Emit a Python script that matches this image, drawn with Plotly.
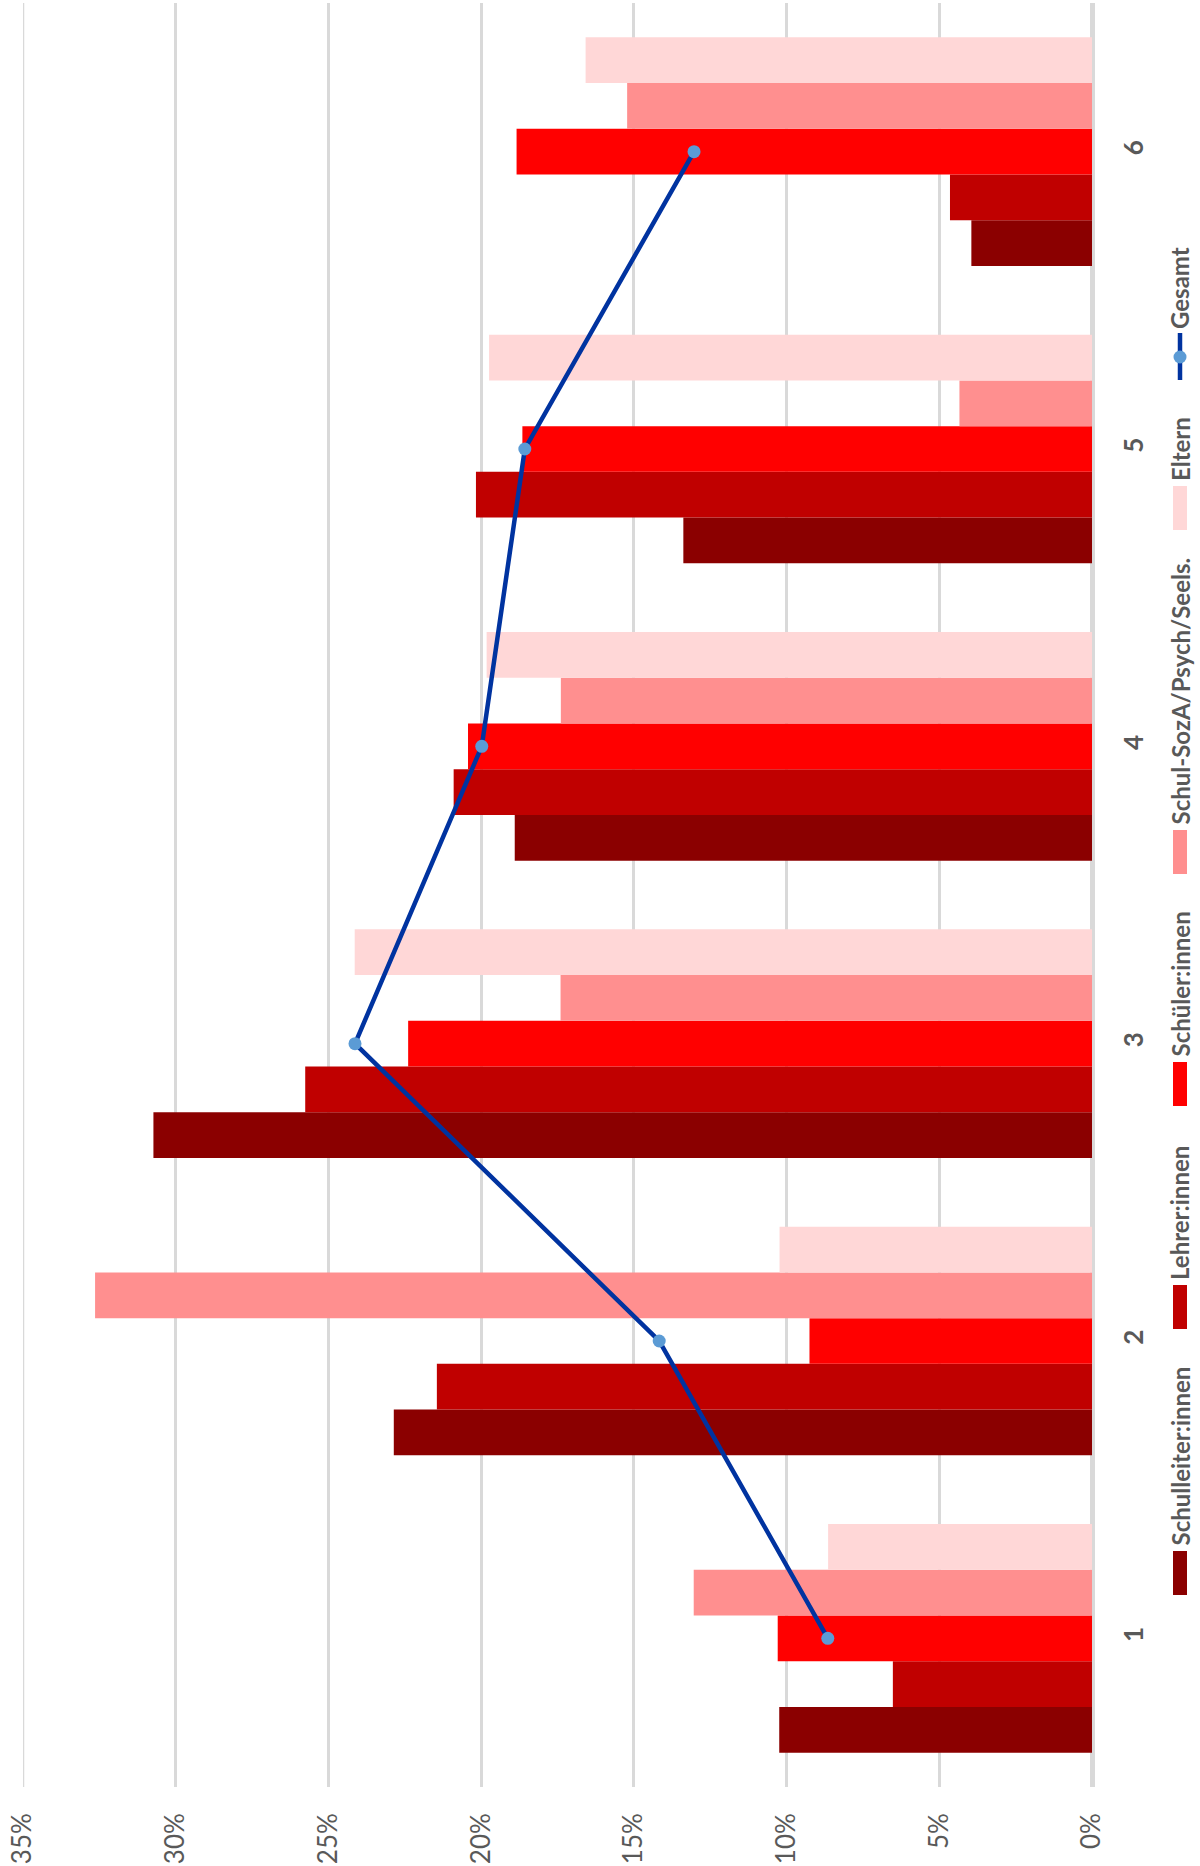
import plotly.graph_objects as go

# Categories (1..6) and shares per respondent group, in percent
categories = [1, 2, 3, 4, 5, 6]
category_labels = ["1", "2", "3", "4", "5", "6"]

schulleiter = [10.24, 22.86, 30.73, 18.90, 13.38, 3.95]
lehrer = [6.52, 21.45, 25.76, 20.90, 20.17, 4.65]
schueler = [10.29, 9.25, 22.39, 20.43, 18.65, 18.84]
sozA = [13.04, 32.64, 17.40, 17.39, 4.34, 15.22]
eltern = [8.64, 10.23, 24.14, 19.82, 19.74, 16.58]
gesamt = [8.65, 14.17, 24.13, 19.98, 18.57, 13.03]

series_names = ["Schulleiter:innen", "Lehrer:innen", "Schüler:innen",
                "Schul-SozA/Psych/Seels.", "Eltern"]
line_name = "Gesamt"

x_ticks = [0, 5, 10, 15, 20, 25, 30, 35]
x_tick_labels = ["0%", "5%", "10%", "15%", "20%", "25%", "30%", "35%"]

bar_colors = ["#8B0000", "#C00000", "#FF0000", "#FF8F8F", "#FFD7D7"]
line_color = "#0033A0"
marker_color = "#5B9BD5"
text_color = "#595959"
grid_color = "#D9D9D9"
FONT = "Lato"

W, H = 1200, 1866
ML, MR, MT, MB = 23, 108, 3, 79
PW, PH = W - ML - MR, H - MT - MB


def px_x(px):
    return (px - ML) / PW


def px_y(py):
    return (H - MB - py) / PH


fig = go.Figure()

for name, vals, col in zip(series_names,
                           [schulleiter, lehrer, schueler, sozA, eltern],
                           bar_colors):
    fig.add_trace(go.Bar(
        y=categories, x=vals, name=name, orientation="h",
        marker=dict(color=col, line=dict(width=0)),
        showlegend=False,
    ))

fig.add_trace(go.Scatter(
    y=categories, x=gesamt, name=line_name, mode="lines+markers",
    line=dict(color=line_color, width=4.5),
    marker=dict(color=marker_color, size=13, line=dict(width=0)),
    showlegend=False,
))

shapes = []
annotations = []

# Gridline at the far (35 %) edge of the value axis
shapes.append(dict(type="line", xref="x", yref="paper",
                   x0=max(x_ticks), x1=max(x_ticks), y0=0, y1=1,
                   line=dict(color=grid_color, width=2.5), layer="below"))

# Legend drawn along the right edge, rotated to read bottom-to-top
legend_x0, legend_x1 = 1173, 1187
legend_cx = (legend_x0 + legend_x1) / 2
swatch_spans = [(1551, 1595), (1285, 1329), (1062, 1106), (830, 874), (486, 530)]
for (top, bot), col, name in zip(swatch_spans, bar_colors, series_names):
    shapes.append(dict(type="rect", xref="paper", yref="paper",
                       x0=px_x(legend_x0), x1=px_x(legend_x1),
                       y0=px_y(bot), y1=px_y(top),
                       fillcolor=col, line=dict(width=0), layer="above"))
    annotations.append(dict(xref="paper", yref="paper",
                            x=px_x(legend_cx), y=px_y(top - 3),
                            xanchor="center", yanchor="bottom",
                            text=name, textangle=-90, showarrow=False,
                            font=dict(family=FONT, size=24, color=text_color, weight=700)))

# Line-series legend icon
shapes.append(dict(type="line", xref="paper", yref="paper",
                   x0=px_x(legend_cx), x1=px_x(legend_cx),
                   y0=px_y(380), y1=px_y(333),
                   line=dict(color=line_color, width=4.5), layer="above"))
shapes.append(dict(type="circle", xref="paper", yref="paper",
                   x0=px_x(legend_cx - 6.5), x1=px_x(legend_cx + 6.5),
                   y0=px_y(363.5), y1=px_y(350.5),
                   fillcolor=marker_color, line=dict(width=0), layer="above"))
annotations.append(dict(xref="paper", yref="paper",
                        x=px_x(legend_cx), y=px_y(331),
                        xanchor="center", yanchor="bottom",
                        text=line_name, textangle=-90, showarrow=False,
                        font=dict(family=FONT, size=24, color=text_color, weight=700)))

fig.update_layout(
    width=W, height=H,
    margin=dict(l=ML, r=MR, t=MT, b=MB, autoexpand=False),
    paper_bgcolor="white", plot_bgcolor="white",
    barmode="group", bargap=0.231, bargroupgap=0,
    font=dict(family=FONT, color=text_color),
    shapes=shapes, annotations=annotations,
    xaxis=dict(
        range=[35, 0], tickvals=x_ticks, ticktext=x_tick_labels,
        tickangle=-90, ticks="", ticklabelstandoff=20,
        tickfont=dict(family=FONT, size=26, color=text_color),
        showgrid=True, gridcolor=grid_color, gridwidth=2.5,
        zeroline=True, zerolinecolor=grid_color, zerolinewidth=4.5,
        showline=False, fixedrange=True,
    ),
    yaxis=dict(
        range=[0.5, 6.5], tickvals=categories, ticktext=category_labels,
        side="right", tickangle=-90, ticks="", ticklabelstandoff=24,
        tickfont=dict(family=FONT, size=26, color=text_color, weight=700),
        showgrid=False, zeroline=False, showline=False, fixedrange=True,
    ),
)

fig.write_html("out.html")
